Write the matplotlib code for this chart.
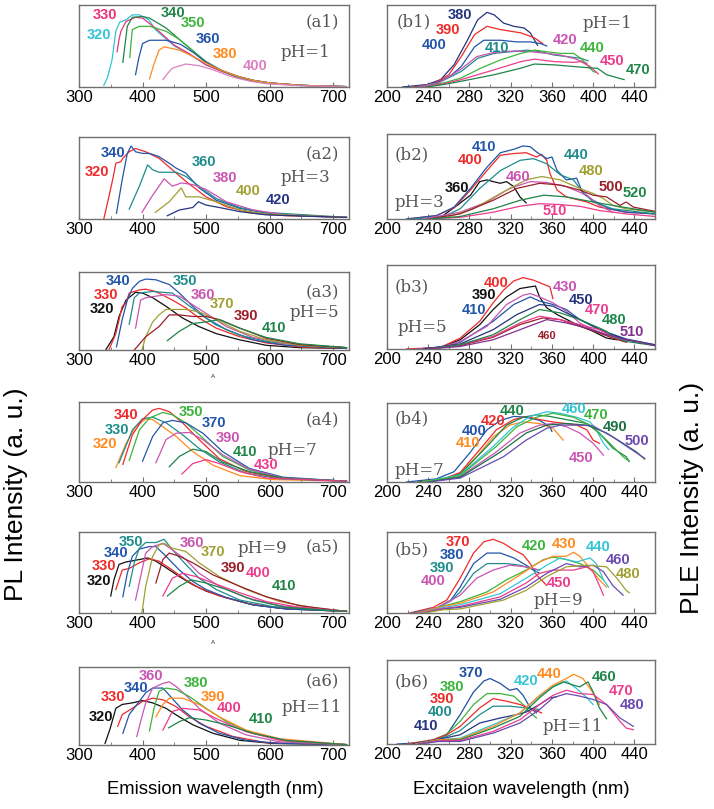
import matplotlib
matplotlib.use('Agg')
import matplotlib.pyplot as plt
from matplotlib.ticker import MultipleLocator

# ---------------- data ----------------
# PL panels: excitation wavelength of each curve, emission wl (x) and intensity (y)
a1_exc = [320, 330, 340, 350, 360, 380, 400]
a1_x = [[339, 345, 352, 358, 364, 374, 384, 395, 410, 420, 450, 475, 500, 525, 550, 575, 600, 650, 720],
        [360, 363, 366, 374, 389, 400, 420, 450, 475, 500, 525, 550, 575, 600, 650, 720],
        [369, 373, 376, 384, 400, 411, 437, 458, 479, 500, 525, 553, 575, 605, 650, 720],
        [380, 382, 384, 395, 411, 437, 458, 480, 500, 525, 550, 575, 600, 650, 720],
        [389, 394, 400, 411, 437, 447, 460, 480, 500, 525, 550, 575, 600, 650, 720],
        [411, 418, 426, 434, 458, 475, 500, 525, 550, 575, 600, 650, 720],
        [432, 440, 447, 468, 489, 511, 542, 570, 595, 650, 720]]
a1_y = [[.02, .12, .33, .68, .79, .82, .88, .88, .82, .70, .50, .39, .27, .19, .12, .08, .05, .02, .005],
        [.43, .58, .68, .80, .85, .84, .72, .51, .40, .27, .19, .12, .08, .05, .02, .005],
        [.30, .55, .74, .85, .86, .84, .72, .58, .44, .31, .20, .11, .07, .04, .02, .005],
        [.36, .55, .70, .74, .74, .68, .58, .44, .30, .20, .13, .08, .05, .02, .005],
        [.15, .35, .53, .57, .57, .55, .52, .42, .30, .20, .13, .08, .05, .02, .005],
        [.10, .28, .45, .49, .45, .39, .29, .20, .13, .08, .05, .02, .005],
        [.09, .17, .23, .28, .26, .21, .12, .07, .04, .015, .005]]

a2_exc = [320, 340, 360, 380, 400, 420]
a2_x = [[339, 347, 353, 358, 366, 369, 379, 389, 405, 426, 447, 468, 500, 532, 574, 626, 721],
        [359, 368, 376, 382, 389, 400, 411, 426, 442, 453, 468, 489, 516, 553, 595, 647, 721],
        [379, 395, 408, 416, 426, 453, 468, 489, 516, 553, 595, 721],
        [399, 416, 434, 447, 461, 479, 500, 532, 574, 626, 721],
        [420, 442, 461, 468, 489, 516, 553, 595, 721],
        [439, 458, 479, 488, 500, 521, 553, 595, 721]]
a2_y = [[0, .27, .48, .68, .70, .74, .82, .86, .82, .74, .60, .46, .27, .15, .07, .04, .02],
        [.07, .48, .80, .89, .82, .80, .80, .76, .68, .62, .56, .38, .23, .13, .07, .04, .02],
        [.12, .40, .66, .60, .57, .57, .52, .40, .25, .14, .08, .02],
        [.08, .29, .49, .40, .44, .42, .36, .21, .11, .05, .02],
        [.08, .21, .38, .27, .27, .21, .11, .06, .02],
        [.04, .11, .14, .21, .17, .14, .09, .05, .02]]

a3_exc = [320, 330, 340, 350, 360, 370, 390, 410]
a3_x = [[342, 355, 363, 374, 389, 400, 416, 437, 463, 489, 516, 553, 595, 647, 721],
        [347, 358, 368, 374, 379, 395, 405, 421, 447, 468, 489, 516, 553, 595, 647, 721],
        [359, 368, 376, 384, 395, 405, 421, 442, 458, 479, 500, 532, 574, 626, 721],
        [379, 387, 395, 416, 447, 468, 489, 516, 553, 595, 647, 721],
        [389, 397, 405, 437, 458, 479, 500, 532, 574, 626, 721],
        [399, 405, 416, 426, 437, 468, 489, 516, 553, 595, 647, 721],
        [387, 405, 426, 442, 458, 479, 500, 521, 553, 595, 647, 721],
        [439, 458, 479, 500, 521, 553, 595, 647, 721]]
a3_y = [[0, .17, .43, .64, .74, .73, .67, .56, .41, .30, .21, .13, .06, .03, .02],
        [0, .21, .56, .60, .73, .77, .78, .75, .64, .54, .41, .28, .17, .09, .04, .02],
        [.04, .39, .64, .79, .88, .91, .90, .84, .73, .56, .41, .26, .13, .06, .02],
        [.33, .67, .73, .75, .73, .60, .47, .32, .19, .11, .06, .03],
        [.28, .64, .67, .71, .69, .58, .47, .30, .16, .08, .03],
        [0, .17, .36, .45, .52, .52, .49, .39, .24, .13, .06, .03],
        [0, .17, .30, .45, .45, .43, .43, .39, .28, .15, .07, .03],
        [.12, .24, .34, .36, .39, .28, .16, .08, .03]]

a4_exc = [320, 330, 340, 350, 370, 390, 410, 430]
a4_x = [[358, 374, 389, 405, 416, 432, 453, 479, 511, 553, 605, 721],
        [363, 384, 400, 416, 437, 463, 489, 521, 563, 616, 721],
        [369, 384, 400, 416, 426, 442, 463, 489, 521, 563, 616, 721],
        [379, 395, 411, 432, 447, 468, 495, 526, 568, 621, 721],
        [400, 416, 432, 447, 468, 495, 526, 568, 621, 721],
        [421, 437, 453, 474, 495, 526, 568, 621, 721],
        [442, 458, 479, 500, 526, 568, 621, 721],
        [462, 479, 500, 521, 553, 595, 721]]
a4_y = [[.18, .48, .69, .79, .78, .69, .57, .38, .21, .08, .03, .01],
        [.24, .65, .79, .81, .74, .59, .42, .25, .11, .04, .01],
        [.22, .59, .78, .90, .92, .88, .74, .53, .29, .13, .05, .01],
        [.27, .65, .80, .87, .84, .74, .55, .32, .15, .05, .01],
        [.26, .57, .74, .77, .74, .61, .38, .17, .06, .01],
        [.24, .53, .61, .62, .53, .34, .16, .05, .01],
        [.19, .32, .41, .38, .25, .13, .05, .01],
        [.10, .23, .28, .23, .13, .05, .01]]

a5_exc = [320, 330, 340, 350, 360, 370, 390, 400, 410]
a5_x = [[350, 355, 363, 374, 395, 408, 421, 437, 458, 479, 500, 532, 574, 626, 721],
        [358, 368, 379, 395, 411, 426, 447, 468, 489, 521, 563, 616, 721],
        [369, 376, 384, 395, 411, 421, 437, 458, 479, 500, 532, 574, 626, 721],
        [379, 387, 395, 405, 421, 434, 447, 468, 489, 516, 553, 605, 721],
        [389, 397, 405, 416, 432, 447, 468, 489, 521, 563, 616, 721],
        [399, 405, 416, 426, 434, 447, 468, 489, 521, 563, 616, 674, 721],
        [421, 432, 442, 458, 479, 511, 553, 595, 647, 721],
        [432, 447, 463, 484, 511, 553, 595, 647, 721],
        [439, 458, 476, 500, 532, 574, 626, 721]]
a5_y = [[.21, .41, .60, .63, .66, .68, .64, .56, .45, .35, .27, .19, .10, .05, .02],
        [.29, .53, .55, .62, .67, .64, .53, .41, .31, .21, .12, .06, .02],
        [.20, .49, .70, .79, .82, .82, .70, .53, .39, .29, .19, .10, .05, .02],
        [.33, .62, .80, .87, .87, .91, .78, .60, .43, .29, .16, .08, .02],
        [.16, .45, .74, .82, .86, .78, .66, .49, .33, .19, .09, .02],
        [0, .33, .70, .84, .86, .80, .76, .62, .45, .29, .14, .06, .02],
        [.37, .66, .74, .70, .62, .47, .33, .20, .09, .02],
        [.21, .43, .49, .45, .37, .25, .14, .07, .02],
        [.21, .33, .41, .37, .29, .16, .07, .02]]

a6_exc = [320, 330, 340, 360, 380, 390, 400, 410]
a6_x = [[341, 349, 358, 368, 384, 400, 416, 437, 458, 479, 511, 553, 605, 721],
        [361, 368, 384, 400, 416, 432, 453, 474, 500, 542, 595, 721],
        [369, 379, 395, 405, 416, 432, 442, 463, 489, 521, 563, 616, 721],
        [391, 397, 405, 416, 432, 442, 453, 468, 489, 521, 563, 616, 721],
        [411, 418, 426, 437, 453, 474, 500, 532, 574, 626, 721],
        [421, 432, 442, 463, 489, 521, 563, 616, 721],
        [432, 447, 463, 489, 521, 563, 616, 721],
        [441, 458, 474, 500, 532, 574, 626, 721]]
a6_y = [[.02, .21, .47, .52, .54, .57, .54, .47, .36, .26, .15, .06, .02, .005],
        [.24, .39, .47, .56, .60, .58, .49, .36, .24, .11, .03, .005],
        [.15, .39, .56, .67, .73, .73, .64, .45, .28, .15, .06, .02, .005],
        [.11, .30, .54, .73, .79, .81, .75, .64, .47, .28, .13, .04, .005],
        [.18, .47, .69, .73, .71, .62, .47, .30, .15, .05, .005],
        [.36, .52, .60, .60, .52, .36, .19, .08, .005],
        [.19, .43, .47, .45, .32, .17, .06, .005],
        [.22, .30, .35, .32, .26, .15, .06, .005]]

# PLE panels: emission wavelength of each curve, excitation wl (x) and intensity (y)
b1_em = [380, 390, 400, 410, 420, 440, 450, 470]
b1_x = [[215, 239, 252, 265, 278, 288, 297, 304, 313, 323, 333, 339, 346],
        [225, 245, 260, 272, 285, 297, 310, 330, 343, 351],
        [228, 248, 262, 272, 285, 294, 310, 326, 339, 349, 355],
        [230, 250, 272, 288, 304, 320, 336, 349, 362, 375, 388, 395],
        [230, 250, 271, 287, 303, 323, 339, 355, 368, 381, 394],
        [235, 255, 272, 291, 310, 330, 343, 355, 368, 381, 388, 400, 402],
        [235, 255, 272, 304, 330, 343, 362, 381, 388, 397, 405],
        [238, 255, 272, 304, 330, 343, 362, 381, 400, 404, 413, 430]]
b1_y = [[0, .03, .09, .27, .57, .82, .91, .88, .78, .74, .72, .66, .51],
        [0, .04, .15, .37, .64, .74, .70, .66, .60, .53],
        [0, .05, .14, .25, .49, .57, .57, .55, .55, .53, .50],
        [0, .05, .19, .35, .41, .43, .45, .43, .39, .37, .35, .32],
        [0, .05, .21, .37, .42, .44, .43, .41, .39, .35, .29],
        [0, .05, .11, .23, .33, .41, .45, .43, .41, .41, .35, .19, .18],
        [0, .04, .09, .21, .31, .34, .31, .30, .31, .25, .16],
        [0, .03, .07, .15, .23, .28, .27, .25, .23, .23, .15, .09]]

b2_em = [360, 400, 410, 440, 460, 480, 500, 510, 520]
b2_x = [[250, 268, 281, 290, 297, 303, 310, 316, 323, 329, 335],
        [219, 248, 265, 281, 297, 310, 323, 335, 345, 350, 355, 358, 365, 374, 394, 406, 432, 460],
        [219, 248, 265, 281, 297, 310, 323, 332, 339, 345, 355, 360, 365, 374, 384, 390, 400, 416, 432, 460],
        [225, 255, 271, 290, 310, 329, 342, 355, 368, 381, 387, 400, 419, 460],
        [235, 271, 297, 319, 339, 355, 374, 394, 406, 419],
        [240, 258, 284, 310, 335, 350, 368, 387, 400, 410, 419, 432, 460],
        [240, 271, 303, 326, 348, 368, 387, 400, 413, 426, 432, 439, 460],
        [240, 271, 303, 329, 348, 368, 387, 406, 432, 460],
        [240, 271, 303, 329, 352, 374, 400, 419, 439, 460]]
b2_y = [[0, .16, .28, .44, .46, .44, .42, .44, .38, .26, .19],
        [0, .04, .13, .34, .57, .75, .77, .78, .73, .76, .69, .54, .34, .26, .20, .14, .08, .06],
        [0, .04, .14, .36, .61, .78, .82, .86, .85, .79, .71, .73, .57, .46, .48, .30, .22, .12, .08, .06],
        [0, .03, .12, .36, .57, .69, .71, .65, .52, .46, .36, .20, .12, .06],
        [0, .08, .20, .36, .44, .43, .38, .28, .16, .08],
        [0, .02, .12, .30, .46, .50, .46, .36, .30, .24, .16, .12, .08],
        [0, .06, .22, .36, .42, .40, .34, .28, .26, .16, .20, .14, .09],
        [0, .02, .08, .15, .18, .17, .15, .10, .06, .03],
        [0, .03, .12, .22, .28, .26, .20, .16, .12, .08]]

b3_em = [390, 400, 410, 430, 450, 460, 470, 480, 510]
b3_x = [[230, 252, 271, 290, 303, 316, 329, 339, 344, 348, 355, 365, 381, 400, 413, 423],
        [219, 252, 271, 290, 303, 313, 323, 332, 342, 350, 358, 361],
        [230, 252, 271, 303, 323, 339, 348, 361, 374, 387, 400, 413, 432, 460],
        [230, 252, 271, 297, 316, 332, 339, 348, 361, 374, 387, 400, 413, 432, 460],
        [235, 271, 303, 326, 348, 361, 374, 394, 406, 419, 432, 460],
        [240, 271, 303, 329, 351, 368, 387, 406, 419, 432],
        [240, 271, 303, 329, 348, 368, 387, 406, 419, 432],
        [240, 271, 303, 326, 348, 368, 387, 406, 413, 419, 432, 460],
        [240, 271, 303, 329, 355, 374, 394, 413, 432, 439, 460]]
b3_y = [[0, .02, .11, .29, .47, .62, .72, .74, .75, .62, .49, .41, .31, .21, .13, .11],
        [0, .02, .13, .33, .55, .70, .81, .85, .82, .78, .74, .60],
        [0, .02, .08, .33, .53, .62, .57, .53, .47, .35, .27, .20, .12, .05],
        [0, .02, .09, .27, .53, .64, .66, .62, .55, .45, .31, .23, .17, .11, .04],
        [0, .06, .23, .41, .53, .51, .43, .31, .23, .17, .11, .05],
        [0, .04, .14, .29, .37, .35, .27, .19, .13, .08],
        [0, .05, .15, .31, .39, .35, .29, .23, .15, .09],
        [0, .05, .17, .33, .47, .43, .35, .25, .21, .15, .09, .04],
        [0, .03, .11, .23, .35, .31, .25, .17, .11, .10, .04]]

b4_em = [400, 410, 420, 440, 450, 460, 470, 490, 500]
b4_x = [[219, 248, 265, 281, 297, 310, 323, 335, 348, 358, 360],
        [230, 255, 271, 287, 303, 319, 332, 348, 361, 371],
        [230, 255, 271, 290, 306, 323, 335, 348, 361, 374, 384, 394, 400, 406],
        [230, 255, 271, 297, 316, 332, 345, 358, 374, 394, 406, 419, 432, 435],
        [235, 271, 306, 329, 348, 361, 374, 387, 400, 410],
        [235, 271, 303, 323, 339, 355, 368, 384, 397, 403, 410, 415],
        [235, 271, 306, 326, 345, 361, 381, 397, 413, 429, 435],
        [240, 271, 310, 335, 355, 374, 394, 413, 429, 442, 450],
        [240, 271, 313, 335, 355, 368, 387, 400, 419, 435, 450]]
b4_y = [[0, .04, .13, .38, .66, .78, .83, .82, .78, .70, .64],
        [0, .04, .11, .32, .57, .72, .76, .74, .68, .53],
        [0, .04, .12, .41, .66, .79, .83, .79, .76, .74, .72, .66, .53, .49],
        [0, .04, .10, .45, .72, .82, .85, .83, .79, .74, .62, .43, .32, .26],
        [0, .07, .38, .62, .72, .74, .70, .62, .49, .34],
        [0, .09, .45, .70, .83, .89, .87, .82, .76, .66, .49, .41],
        [0, .08, .45, .70, .82, .87, .82, .72, .53, .32, .26],
        [0, .06, .38, .62, .72, .74, .72, .62, .49, .38, .29],
        [0, .05, .32, .53, .68, .72, .72, .71, .57, .43, .30]]

b5_em = [370, 380, 390, 400, 420, 430, 440, 450, 460, 480]
b5_x = [[222, 245, 258, 271, 284, 294, 303, 313, 323, 332, 339, 345, 355],
        [225, 248, 262, 271, 284, 297, 310, 323, 335, 342, 348],
        [225, 248, 262, 271, 284, 297, 316, 329, 339, 348],
        [228, 250, 271, 287, 303, 319, 335, 348],
        [230, 250, 271, 297, 316, 335, 352, 361, 374, 387, 400, 410],
        [230, 250, 271, 303, 329, 348, 361, 374, 381, 387, 397, 406, 413],
        [232, 250, 271, 310, 335, 355, 368, 384, 397, 403, 410, 415],
        [232, 250, 271, 310, 335, 348, 361, 381, 394, 400, 406, 410],
        [235, 255, 271, 310, 335, 355, 374, 387, 400, 410, 419, 429],
        [235, 255, 271, 313, 335, 355, 374, 394, 413, 423, 432, 435]]
b5_y = [[0, .07, .16, .43, .74, .88, .91, .86, .78, .72, .61, .47, .34],
        [0, .06, .16, .32, .61, .74, .74, .68, .59, .53, .49],
        [0, .06, .15, .26, .49, .61, .61, .59, .55, .53],
        [0, .07, .22, .43, .53, .59, .57, .53],
        [0, .07, .14, .26, .41, .53, .66, .69, .66, .61, .53, .41],
        [0, .07, .12, .26, .47, .63, .70, .70, .75, .70, .55, .41, .32],
        [0, .06, .10, .24, .43, .59, .68, .63, .68, .61, .41, .32],
        [0, .05, .08, .20, .37, .49, .53, .53, .57, .51, .34, .22],
        [0, .05, .07, .17, .32, .49, .61, .57, .59, .51, .34, .22],
        [0, .04, .05, .16, .28, .45, .57, .59, .57, .43, .28, .25]]

b6_em = [370, 380, 390, 400, 410, 420, 440, 460, 470, 480]
b6_x = [[210, 239, 258, 271, 284, 294, 300, 310, 319, 326, 332, 339, 345],
        [220, 245, 258, 271, 284, 297, 310, 323, 332, 339, 345],
        [220, 245, 258, 271, 290, 303, 316, 329, 342, 350],
        [225, 248, 260, 271, 290, 303, 319, 335, 348],
        [225, 248, 271, 290, 310, 326, 335, 348, 358, 364],
        [228, 250, 271, 303, 329, 348, 361, 374, 384, 394, 400],
        [228, 250, 271, 303, 329, 348, 361, 374, 381, 390, 397, 403, 406],
        [230, 250, 271, 303, 329, 348, 361, 371, 381, 387, 395, 400, 406, 413],
        [230, 250, 271, 303, 329, 348, 361, 374, 387, 400, 413, 426, 432, 439],
        [232, 250, 271, 303, 329, 348, 361, 374, 387, 400, 413, 426, 439]]
b6_y = [[0, .02, .11, .35, .62, .75, .78, .72, .64, .66, .58, .43, .37],
        [0, .05, .12, .27, .47, .60, .60, .57, .47, .37, .31],
        [0, .05, .11, .21, .43, .54, .51, .47, .41, .37],
        [0, .05, .10, .16, .35, .45, .45, .43, .41],
        [0, .05, .11, .25, .31, .35, .38, .47, .55, .56],
        [0, .05, .07, .23, .37, .57, .68, .75, .66, .55, .47],
        [0, .05, .06, .21, .37, .58, .70, .78, .83, .78, .66, .55, .47],
        [0, .04, .05, .19, .33, .55, .68, .74, .70, .68, .74, .62, .43, .30],
        [0, .04, .04, .15, .29, .47, .58, .64, .60, .59, .47, .27, .19, .17],
        [0, .03, .03, .13, .25, .41, .55, .60, .57, .53, .47, .31, .21]]

ph_vals = ['pH=1', 'pH=3', 'pH=5', 'pH=7', 'pH=9', 'pH=11']

# ---------------- styling / layout ----------------
CY = '#33c4d6'; PR = '#e8337a'; DG = '#1e8548'; GR = '#3cb43c'; BL = '#2255aa'
OR = '#ff8a1e'; LP = '#dd80c0'; RD = '#ee2a2a'; TE = '#1f8c8c'; MG = '#c955b3'
OL = '#a0a032'; NV = '#24347f'; BK = '#111111'; DR = '#9a1f2a'; PK = '#ec3c8c'
PU = '#83308f'; VI = '#6a4ab0'; DG2 = '#1a7040'

W, H = 714, 809
fig = plt.figure(figsize=(W / 100, H / 100), dpi=100)

def box(l, t, r, b):
    return [l / W, 1 - b / H, (r - l) / W, (b - t) / H]

# name, box(px), data, colors, label positions, tag pos, pH pos
left = [
    ('a1', box(79, 5, 349, 87), a1_exc, a1_x, a1_y, [CY, PR, DG, GR, BL, OR, LP],
     [(331, .64), (341, .88), (448, .90), (480, .78), (503, .58), (530, .40), (578, .26)],
     (683, .79), (657, .42)),
    ('a2', box(79, 137, 349, 219), a2_exc, a2_x, a2_y, [RD, BL, TE, MG, OL, NV],
     [(329, .57), (353, .81), (497, .70), (529, .50), (566, .34), (613, .23)],
     (683, .78), (657, .51)),
    ('a3', box(79, 272, 349, 350), a3_exc, a3_x, a3_y, [BK, RD, BL, TE, MG, OL, DR, DG],
     [(336, .52), (342, .71), (362, .88), (466, .89), (495, .71), (525, .59), (563, .43), (607, .28)],
     (683, .73), (671, .48)),
    ('a4', box(79, 402, 349, 482), a4_exc, a4_x, a4_y, [OR, TE, RD, GR, BL, MG, DG, PK],
     [(341, .48), (359, .65), (374, .84), (476, .88), (512, .74), (534, .55), (562, .38), (595, .21)],
     (683, .78), (636, .39)),
    ('a5', box(79, 532, 349, 613), a5_exc, a5_x, a5_y, [BK, RD, BL, TE, MG, OL, DR, PK, DG],
     [(332, .40), (339, .58), (358, .74), (382, .88), (478, .87), (511, .75), (542, .56), (582, .49), (623, .33)],
     (683, .80), (589, .80)),
    ('a6', box(79, 667, 349, 745), a6_exc, a6_x, a6_y, [BK, RD, BL, MG, GR, OR, PK, DG],
     [(335, .36), (353, .61), (389, .73), (413, .88), (484, .79), (511, .62), (537, .47), (586, .33)],
     (683, .81), (666, .48)),
]
right = [
    ('b1', box(387, 5, 655, 87), b1_em, b1_x, b1_y, [NV, RD, BL, TE, MG, GR, PK, DG],
     [(271, .88), (259, .70), (246, .51), (307, .47), (373, .57), (399, .47), (418, .32), (444, .21)],
     (226, .79), (414, .78)),
    ('b2', box(387, 134, 655, 219), b2_em, b2_x, b2_y, [BK, RD, BL, TE, MG, OL, DR, PK, DG],
     [(268, .37), (281, .69), (294, .85), (383, .75), (327, .50), (398, .56), (417, .38), (363, .10), (440, .31)],
     (224, .75), (231, .20)),
    ('b3', box(387, 265, 655, 349), b3_em, b3_x, b3_y, [BK, RD, BL, MG, NV, DR, PK, DG, PU],
     [(294, .64), (306, .79), (284, .47), (373, .74), (388, .58), (355, .16), (404, .46), (420, .34), (437, .20)],
     (224, .74), (234, .25)),
    ('b4', box(387, 403, 655, 482), b4_em, b4_x, b4_y, [BL, OR, RD, DG, MG, CY, GR, DG2, VI],
     [(285, .65), (279, .49), (303, .77), (321, .90), (388, .30), (381, .92), (403, .85), (421, .69), (442, .52)],
     (224, .80), (231, .15)),
    ('b5', box(387, 532, 655, 613), b5_em, b5_x, b5_y, [RD, BL, TE, MG, GR, OR, CY, PK, VI, OL],
     [(269, .88), (263, .72), (253, .55), (245, .39), (343, .83), (372, .85), (405, .82), (367, .37), (424, .66), (434, .48)],
     (224, .78), (366, .16)),
    ('b6', box(387, 660, 655, 744), b6_em, b6_x, b6_y, ['#1f4fa0', GR, RD, TE, NV, CY, OR, DG, PK, VI],
     [(281, .85), (263, .68), (253, .53), (252, .38), (238, .21), (335, .75), (357, .83), (411, .80), (427, .63), (438, .46)],
     (224, .74), (380, .21)),
]

FRAME = '#707070'
SERIF = 'DejaVu Serif'
SANS = 'Liberation Sans'

def style(ax, xlim, major, minor):
    ax.set_xlim(*xlim)
    ax.set_ylim(0, 1)
    ax.xaxis.set_major_locator(MultipleLocator(major))
    ax.xaxis.set_minor_locator(MultipleLocator(minor))
    ax.set_yticks([])
    for s in ax.spines.values():
        s.set_color(FRAME)
        s.set_linewidth(1.0)
    ax.tick_params(axis='x', which='major', direction='in', length=3.5, color=FRAME,
                   pad=2, labelsize=12)
    ax.tick_params(axis='x', which='minor', direction='in', length=2, color=FRAME)
    for lab in ax.get_xticklabels():
        lab.set_fontfamily(SANS)

for i, (name, rect, exc, xs, ys, cols, lpos, tpos, ppos) in enumerate(left + right):
    ax = fig.add_axes(rect)
    is_left = name.startswith('a')
    for e, x, y, c in zip(exc, xs, ys, cols):
        ax.plot(x, y, color=c, lw=0.9)
    for e, c, (lx, ly) in zip(exc, cols, lpos):
        small = (name == 'b3' and e == 460)
        ax.text(lx, ly, str(e), color=c, fontsize=8 if small else 10.5, fontweight='bold',
                family=SANS, ha='center', va='center')
    ax.text(tpos[0], tpos[1], '(%s)' % name, fontsize=12, family=SERIF, color='#555555',
            ha='center', va='center')
    ax.text(ppos[0], ppos[1], ph_vals[i % 6], fontsize=12, family=SERIF, color='#555555',
            ha='center', va='center')
    if is_left:
        style(ax, (300, 725), 100, 50)
    else:
        style(ax, (200, 460), 40, 20)

fig.text(16 / W, 1 - 494 / H, 'PL Intensity (a. u.)', rotation=90, fontsize=19,
         family=SANS, ha='center', va='center')
fig.text(692 / W, 1 - 498 / H, 'PLE Intensity (a. u.)', rotation=90, fontsize=19,
         family=SANS, ha='center', va='center')
fig.text(215 / W, 1 - 790 / H, 'Emission wavelength (nm)', fontsize=13.3,
         family=SANS, ha='center', va='center')
fig.text(521 / W, 1 - 790 / H, 'Excitaion wavelength (nm)', fontsize=13.3,
         family=SANS, ha='center', va='center')
# stray marks present under a3 and a5 in the original
fig.text(213 / W, 1 - 377 / H, 'A', fontsize=4.5, family=SANS, ha='center', va='center', color='#333333')
fig.text(213 / W, 1 - 643 / H, 'A', fontsize=4.5, family=SANS, ha='center', va='center', color='#333333')

fig.savefig('out.png', dpi=100)
